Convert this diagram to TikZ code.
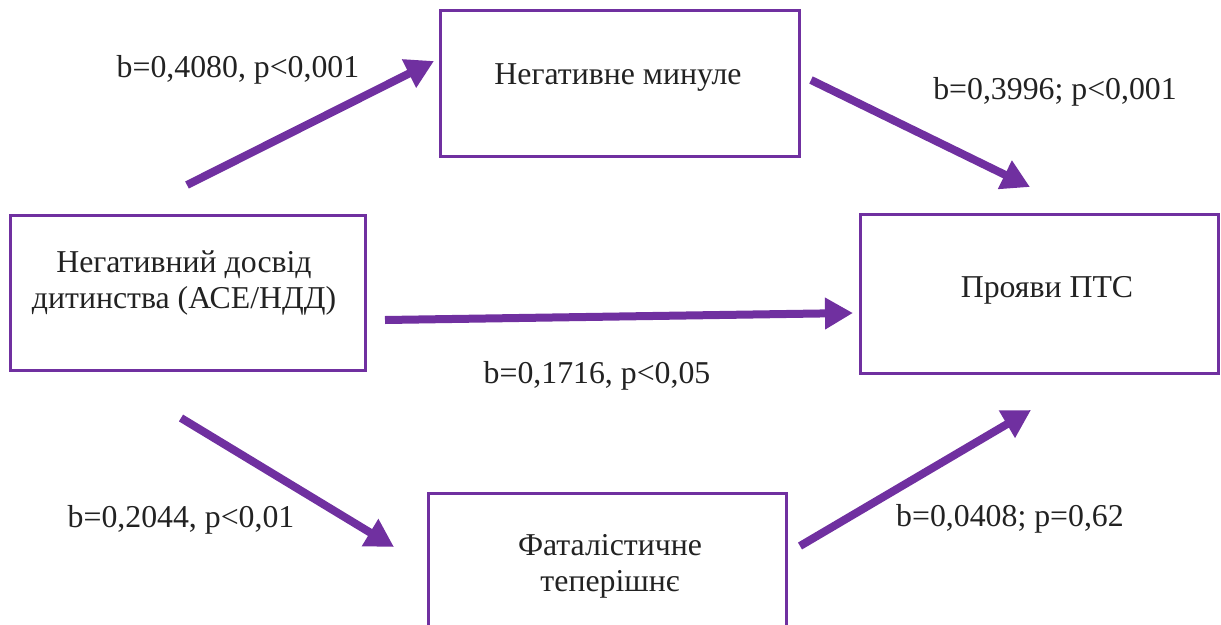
\documentclass[tikz,border=0pt]{standalone}
\usepackage{fontspec}
\setmainfont{Liberation Serif}
\usetikzlibrary{arrows.meta}
\definecolor{vio}{HTML}{7030A0}
\definecolor{ink}{HTML}{222222}
\begin{document}
\begin{tikzpicture}[x=1pt,y=-1pt,
  box/.style={draw=vio,line width=3pt,rectangle,inner sep=0pt},
  lbl/.style={text=ink,font=\fontsize{31.8}{36}\selectfont,align=center,inner sep=0pt},
  arr/.style={draw=vio,line width=8pt,-{Triangle[length=28pt,width=30pt]}}]
\useasboundingbox (0,0) rectangle (1221,624);
\clip (0,0) rectangle (1221,624);
\node[box,minimum width=355pt,minimum height=155pt] (src) at (187.5,292.5) {};
\node[box,minimum width=359pt,minimum height=146pt] (past) at (619.5,83) {};
\node[box,minimum width=358pt,minimum height=159pt] (ptsd) at (1039,293.5) {};
\node[box,minimum width=358pt,minimum height=170pt] (fat) at (607,578) {};
\node[lbl] (srcT) at (184,283) {Негативний досвід\\дитинства (АСЕ/НДД)};
\node[lbl] (pastT) at (618,78) {Негативне минуле};
\node[lbl] (ptsdT) at (1047,290) {Прояви ПТС};
\node[lbl] (fatT) at (610,566) {Фаталістичне\\теперішнє};
\node[lbl] (l1) at (238,70) {b=0,4080, p<0,001};
\node[lbl] (l2) at (1055,92) {b=0,3996; p<0,001};
\node[lbl] (l3) at (597,376) {b=0,1716, p<0,05};
\node[lbl] (l4) at (181,520) {b=0,2044, p<0,01};
\node[lbl] (l5) at (1010,519) {b=0,0408; p=0,62};
\coordinate (a1s) at (187,185); \coordinate (a1e) at (434,61);
\coordinate (a2s) at (811,80); \coordinate (a2e) at (1030,187);
\coordinate (a3s) at (385,320); \coordinate (a3e) at (853,313);
\coordinate (a4s) at (181,418); \coordinate (a4e) at (394,547);
\coordinate (a5s) at (800,546); \coordinate (a5e) at (1031,410);
\draw[arr] (a1s) -- (a1e);
\draw[arr] (a2s) -- (a2e);
\draw[arr] (a3s) -- (a3e);
\draw[arr] (a4s) -- (a4e);
\draw[arr] (a5s) -- (a5e);
\end{tikzpicture}
\end{document}
